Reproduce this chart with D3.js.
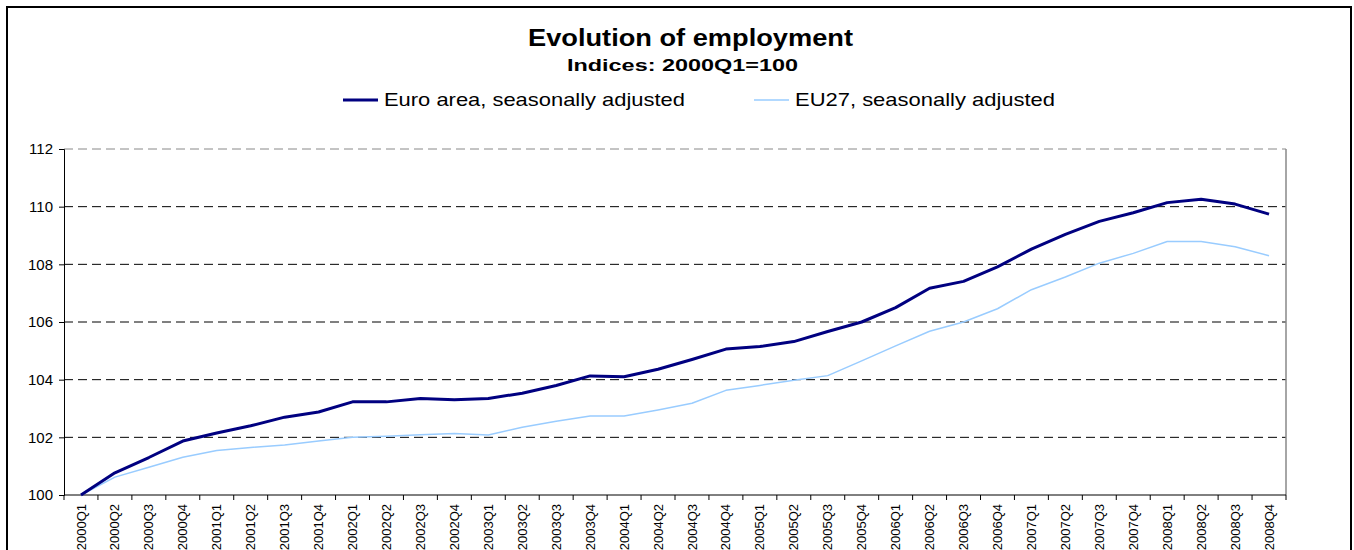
<!DOCTYPE html>
<html>
<head>
<meta charset="utf-8">
<script src="https://cdn.jsdelivr.net/npm/d3@7"></script>
<style>
  body { margin: 0; background: #fff; overflow: hidden; }
  svg { font-family: "Liberation Sans", Arial, sans-serif; display: block; }
</style>
</head>
<body>
<div id="chart"></div>
<script>
const quarters = []
for (let y = 2000; y <= 2008; y++) {
  for (let q = 1; q <= 4; q++) quarters.push(y + 'Q' + q)
}

const euroArea = [100, 100.77, 101.3, 101.87, 102.15, 102.4, 102.7, 102.88,
  103.23, 103.23, 103.35, 103.3, 103.35, 103.53, 103.8, 104.13,
  104.1, 104.36, 104.7, 105.06, 105.15, 105.32, 105.67, 106.0,
  106.5, 107.17, 107.41, 107.91, 108.53, 109.04, 109.49, 109.79,
  110.14, 110.26, 110.09, 109.74]

const eu27 = [100, 100.62, 100.96, 101.31, 101.54, 101.65, 101.73, 101.87,
  102.0, 102.04, 102.09, 102.13, 102.08, 102.35, 102.56, 102.74,
  102.74, 102.95, 103.18, 103.63, 103.8, 103.98, 104.14, 104.65,
  105.17, 105.68, 106.0, 106.46, 107.12, 107.56, 108.04, 108.38,
  108.79, 108.79, 108.61, 108.3]

const yTicks = [100, 102, 104, 106, 108, 110, 112]

const series = [
  { name: 'Euro area, seasonally adjusted', values: euroArea, color: '#000080', width: 3 },
  { name: 'EU27, seasonally adjusted', values: eu27, color: '#99ccff', width: 1.5 }
]

const w = 1354, h = 550
const plotLeft = 64, plotRight = 1286, plotTop = 149, plotBottom = 495

const svg = d3.select('#chart').append('svg')
  .attr('width', w)
  .attr('height', h)

// outer frame
svg.append('rect')
  .attr('x', 7).attr('y', 7)
  .attr('width', 1344).attr('height', 560)
  .attr('fill', 'none')
  .attr('stroke', '#000')
  .attr('stroke-width', 2)

const xScale = d3.scaleBand()
  .domain(quarters)
  .range([plotLeft, plotRight])

const yScale = d3.scaleLinear()
  .domain([100, 112])
  .range([plotBottom, plotTop])

// gridlines
svg.append('g')
  .selectAll('line')
  .data(yTicks.slice(1))
  .enter()
  .append('line')
  .attr('x1', plotLeft).attr('x2', plotRight)
  .attr('y1', d => yScale(d)).attr('y2', d => yScale(d))
  .attr('stroke', d => d === 112 ? '#888' : '#000')
  .attr('stroke-dasharray', '9,5')
  .attr('stroke-width', 1)

// plot area right border
svg.append('line')
  .attr('x1', plotRight).attr('x2', plotRight)
  .attr('y1', plotTop).attr('y2', plotBottom)
  .attr('stroke', '#888')
  .attr('stroke-width', 1.5)

// axes
const yAxis = d3.axisLeft(yScale)
  .tickValues(yTicks)
  .tickSize(5)
  .tickPadding(6)

const gy = svg.append('g')
  .attr('transform', 'translate(' + plotLeft + ',0)')
  .call(yAxis)
gy.select('.domain').attr('stroke', '#000')
gy.selectAll('text')
  .attr('font-size', '15px')
  .attr('font-family', '"Liberation Sans", Arial, sans-serif')
  .attr('fill', '#000')

const xAxis = d3.axisBottom(xScale).tickSize(0).tickPadding(0)
const gx = svg.append('g')
  .attr('transform', 'translate(0,' + plotBottom + ')')
  .call(xAxis)
gx.select('.domain').attr('d', 'M' + plotLeft + ',0H' + plotRight).attr('stroke', '#000')
gx.selectAll('text')
  .attr('font-size', '13px')
  .attr('font-family', '"Liberation Sans", Arial, sans-serif')
  .attr('fill', '#000')
  .attr('text-anchor', 'end')
  .attr('dy', '0.35em')
  .attr('transform', 'translate(0,9) rotate(-90)')
  .attr('x', 0).attr('y', 0)

// category boundary ticks
svg.append('g')
  .selectAll('line')
  .data(quarters.concat(['end']))
  .enter()
  .append('line')
  .attr('x1', (d, i) => plotLeft + i * xScale.step())
  .attr('x2', (d, i) => plotLeft + i * xScale.step())
  .attr('y1', plotBottom).attr('y2', plotBottom + 5)
  .attr('stroke', '#000')

// lines
const line = d3.line()
  .x((d, i) => xScale(quarters[i]) + xScale.bandwidth() / 2)
  .y(d => yScale(d))

series.slice().reverse().forEach(s => {
  svg.append('path')
    .datum(s.values)
    .attr('d', line)
    .attr('fill', 'none')
    .attr('stroke', s.color)
    .attr('stroke-width', s.width)
    .attr('stroke-linejoin', 'round')
})

// title (source text is drawn horizontally stretched)
svg.append('text')
  .attr('x', 528).attr('y', 46)
  .attr('font-size', '24px')
  .attr('font-weight', 'bold')
  .attr('textLength', 325)
  .attr('lengthAdjust', 'spacingAndGlyphs')
  .text('Evolution of employment')

svg.append('text')
  .attr('x', 567).attr('y', 71)
  .attr('font-size', '17px')
  .attr('font-weight', 'bold')
  .attr('textLength', 231)
  .attr('lengthAdjust', 'spacingAndGlyphs')
  .text('Indices: 2000Q1=100')

// legend
const legendX = [343, 754]
const legendLen = [301, 260]
series.forEach((s, i) => {
  const g = svg.append('g').attr('transform', 'translate(' + legendX[i] + ',100)')
  g.append('line')
    .attr('x1', 0).attr('x2', 35)
    .attr('y1', 0).attr('y2', 0)
    .attr('stroke', s.color)
    .attr('stroke-width', s.width)
  g.append('text')
    .attr('x', 41).attr('y', 6)
    .attr('font-size', '18.5px')
    .attr('textLength', legendLen[i])
    .attr('lengthAdjust', 'spacingAndGlyphs')
    .text(s.name)
})
</script>
</body>
</html>
